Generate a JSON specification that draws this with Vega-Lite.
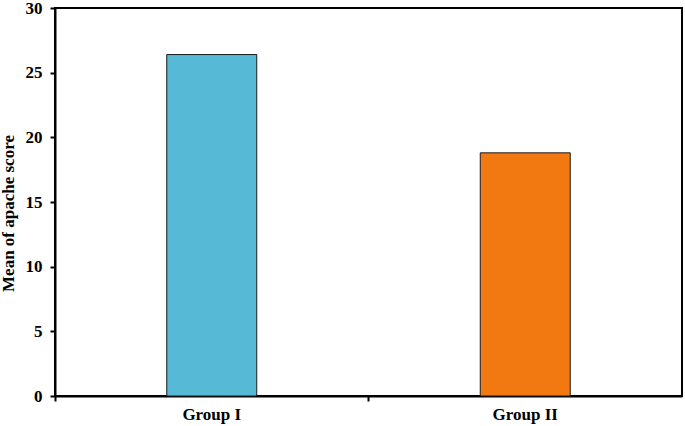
{
  "$schema": "https://vega.github.io/schema/vega-lite/v6.json",
  "width": 627,
  "height": 388,
  "autosize": {"type": "none"},
  "padding": {"left": 55, "top": 8, "right": 3, "bottom": 30},
  "background": "white",
  "config": {
    "view": {"stroke": "black", "strokeWidth": 2},
    "font": "Liberation Serif"
  },
  "data": {
    "values": [
      {"group": "Group I", "score": 26.4},
      {"group": "Group II", "score": 18.8}
    ]
  },
  "mark": {"type": "bar", "width": {"band": 0.287}, "stroke": "#1a1a1a", "strokeWidth": 1},
  "encoding": {
    "x": {
      "field": "group",
      "type": "nominal",
      "sort": null,
      "scale": {"paddingInner": 0, "paddingOuter": 0},
      "axis": {
        "title": null,
        "labelAngle": 0,
        "labelFont": "Liberation Serif",
        "labelFontSize": 17,
        "labelFontWeight": "bold",
        "labelColor": "black",
        "labelPadding": 5,
        "bandPosition": 0,
        "domainColor": "black",
        "domainWidth": 2,
        "tickColor": "black",
        "tickWidth": 2,
        "tickSize": 5,
        "grid": false
      }
    },
    "y": {
      "field": "score",
      "type": "quantitative",
      "scale": {"domain": [0, 30], "nice": false},
      "axis": {
        "title": "Mean of apache score",
        "titleFont": "Liberation Serif",
        "titleFontSize": 17,
        "titleFontWeight": "bold",
        "titleColor": "black",
        "titlePadding": 8,
        "titleY": 205,
        "values": [0, 5, 10, 15, 20, 25, 30],
        "labelFont": "Liberation Serif",
        "labelFontSize": 17,
        "labelFontWeight": "bold",
        "labelColor": "black",
        "labelPadding": 8,
        "domainColor": "black",
        "domainWidth": 2,
        "tickColor": "black",
        "tickWidth": 2,
        "tickSize": 5,
        "grid": false
      }
    },
    "color": {
      "field": "group",
      "type": "nominal",
      "scale": {"domain": ["Group I", "Group II"], "range": ["#56B9D6", "#F27912"]},
      "legend": null
    }
  }
}
